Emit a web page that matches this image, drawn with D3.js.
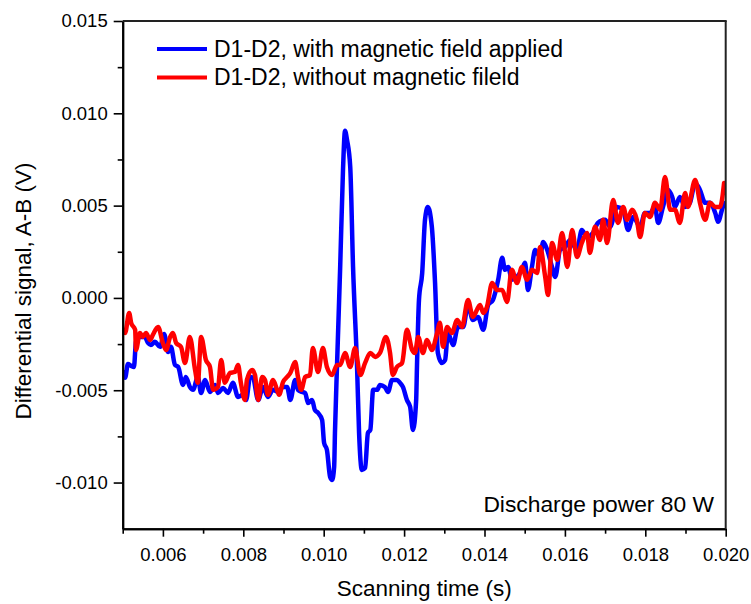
<!DOCTYPE html>
<html><head><meta charset="utf-8">
<script src="https://cdn.jsdelivr.net/npm/d3@7"></script>
<style>body{margin:0;background:#fff} text{font-family:"Liberation Sans",Arial,sans-serif;fill:#000}</style>
</head><body><svg id="c" width="751" height="604"></svg>
<script>
const blueTime = [5.01,5.06,5.13,5.21,5.28,5.33,5.43,5.55,5.63,5.70,5.80,5.93,6.03,6.13,6.20,6.30,6.38,6.50,6.57,6.67,6.75,6.87,6.95,7.05,7.17,7.30,7.37,7.50,7.62,7.74,7.87,7.99,8.07,8.17,8.24,8.37,8.49,8.61,8.74,8.86,8.99,9.09,9.17,9.29,9.36,9.46,9.54,9.61,9.71,9.78,9.86,9.96,10.01,10.08,10.16,10.21,10.26,10.28,10.33,10.41,10.48,10.53,10.58,10.66,10.73,10.83,10.88,10.95,11.03,11.10,11.16,11.23,11.33,11.40,11.52,11.60,11.70,11.82,11.90,11.97,12.07,12.15,12.22,12.30,12.32,12.37,12.45,12.52,12.59,12.69,12.77,12.84,12.94,13.02,13.09,13.22,13.34,13.47,13.59,13.71,13.84,13.97,14.09,14.21,14.34,14.44,14.51,14.59,14.68,14.81,14.93,15.01,15.08,15.18,15.26,15.38,15.46,15.56,15.68,15.76,15.88,16.01,16.13,16.30,16.42,16.55,16.70,16.82,17.00,17.12,17.30,17.45,17.57,17.70,17.87,17.99,18.12,18.24,18.32,18.44,18.57,18.67,18.74,18.86,18.99,19.11,19.24,19.36,19.49,19.61,19.74,19.81,19.93,20.00]; // ms
const blueSignal = [-4.01,-4.33,-3.58,-3.68,-3.74,-2.38,-2.11,-2.11,-2.44,-2.55,-2.38,-2.65,-1.95,-2.93,-2.65,-3.63,-3.74,-4.71,-4.28,-4.82,-4.98,-4.28,-5.15,-4.44,-5.09,-4.71,-5.15,-4.88,-5.15,-4.60,-5.36,-5.25,-5.53,-4.28,-4.33,-5.53,-4.82,-5.36,-4.98,-5.09,-4.82,-4.82,-5.53,-4.44,-4.98,-5.09,-5.15,-5.69,-5.53,-6.07,-6.23,-6.61,-7.85,-8.23,-9.70,-9.86,-9.15,-7.31,-3.74,1.68,6.93,9.05,8.56,7.10,1.68,-3.74,-7.31,-9.32,-9.21,-7.31,-7.15,-4.98,-4.98,-4.71,-4.82,-5.09,-4.44,-4.44,-4.60,-4.82,-5.53,-5.90,-7.15,-5.53,-3.74,-0.11,1.35,4.23,4.93,3.85,0.81,-2.98,-3.52,-3.36,-1.90,-2.55,-1.57,-1.57,-0.38,-1.19,-1.03,-1.73,-0.38,-0.11,0.98,2.17,1.52,1.68,0.98,1.14,1.52,1.90,0.43,1.68,2.60,2.22,3.03,2.60,1.68,1.14,2.60,2.76,3.14,2.60,3.68,3.30,3.52,4.06,4.23,3.85,4.93,4.77,3.68,4.39,3.85,4.60,4.60,4.93,4.06,4.93,5.85,5.47,4.93,5.47,4.93,5.15,6.23,5.85,5.15,5.15,4.60,4.12,4.93,5.15]; // mV
const redTime = [5.01,5.06,5.16,5.21,5.31,5.33,5.43,5.50,5.58,5.68,5.75,5.88,6.00,6.08,6.18,6.25,6.33,6.45,6.55,6.67,6.80,6.87,6.95,7.07,7.17,7.25,7.37,7.45,7.54,7.67,7.79,7.87,7.94,8.04,8.09,8.22,8.29,8.37,8.47,8.54,8.61,8.74,8.84,8.89,8.99,9.09,9.17,9.29,9.36,9.44,9.54,9.66,9.73,9.86,9.98,10.08,10.21,10.33,10.41,10.53,10.66,10.78,10.91,11.03,11.16,11.28,11.40,11.55,11.65,11.72,11.82,11.95,12.07,12.20,12.27,12.35,12.47,12.57,12.69,12.82,12.89,12.97,13.07,13.19,13.32,13.44,13.59,13.71,13.89,13.97,14.06,14.19,14.31,14.44,14.56,14.68,14.81,14.93,15.06,15.18,15.31,15.38,15.51,15.58,15.68,15.81,15.93,16.06,16.18,16.30,16.42,16.55,16.62,16.75,16.87,16.95,17.05,17.20,17.32,17.45,17.55,17.67,17.79,17.87,17.99,18.12,18.24,18.37,18.49,18.62,18.74,18.86,18.99,19.06,19.24,19.36,19.49,19.61,19.74,19.86,19.96]; // ms
const redSignal = [-1.73,-1.90,-0.81,-1.35,-1.73,-2.82,-1.90,-2.11,-1.90,-2.28,-2.00,-1.57,-2.44,-2.82,-2.11,-1.90,-2.44,-2.65,-3.52,-2.11,-3.90,-4.60,-2.11,-3.36,-3.74,-4.98,-4.82,-3.36,-4.60,-4.06,-4.01,-3.63,-4.60,-5.53,-4.44,-3.90,-4.17,-5.53,-4.28,-4.44,-5.25,-4.44,-4.98,-5.25,-4.55,-4.28,-4.06,-3.47,-4.28,-4.98,-4.28,-4.17,-2.71,-4.01,-2.71,-3.74,-4.17,-3.63,-3.63,-2.98,-3.74,-2.71,-4.17,-3.52,-2.98,-3.20,-2.98,-2.11,-2.98,-4.17,-3.74,-3.52,-1.73,-2.82,-2.98,-2.11,-2.98,-2.28,-2.82,-1.90,-1.35,-2.65,-1.57,-1.90,-1.19,-1.57,-0.11,-1.03,-0.38,-0.81,-0.49,0.81,0.43,0.43,-0.22,1.52,0.81,1.68,0.98,1.52,1.35,2.76,1.14,0.16,2.98,2.06,3.52,1.68,3.68,2.22,2.98,3.52,2.44,3.85,3.14,4.23,2.98,5.31,4.06,4.93,4.23,4.77,4.23,3.30,4.60,4.39,5.15,4.77,6.55,4.77,4.77,4.06,5.69,4.93,6.39,5.15,4.23,5.15,4.93,4.93,6.23]; // mV
const seriesNames = ["D1-D2, with magnetic field applied", "D1-D2, without magnetic fileld"];
const seriesColors = ["#0000ff", "#ff0000"];
const xTicks = [0.006,0.008,0.010,0.012,0.014,0.016,0.018,0.020];
const xMinor = [0.005,0.007,0.009,0.011,0.013,0.015,0.017,0.019];
const yTicks = [-0.010,-0.005,0.000,0.005,0.010,0.015];
const yMinor = [-0.0075,-0.0025,0.0025,0.0075,0.0125];
const xTitle = "Scanning time (s)";
const yTitle = "Differential signal, A-B (V)";
const note = "Discharge power 80 W";

const svg = d3.select("#c");
const L = 122.7, R = 725.7, T = 21, B = 528.7;
const x = d3.scaleLinear().domain([0.005, 0.020]).range([L, R]);
const y = d3.scaleLinear().domain([-0.0125, 0.015]).range([B, T]);

svg.append("defs").append("clipPath").attr("id","clip")
  .append("rect").attr("x", L).attr("y", T).attr("width", R-L).attr("height", B-T);

const mk = (ts, vs) => ts.map((t,i) => [t/1000, vs[i]/1000]);
const series = [mk(blueTime, blueSignal), mk(redTime, redSignal)];
const line = d3.line().x(d => x(d[0])).y(d => y(d[1])).curve(d3.curveMonotoneX);

const g = svg.append("g").attr("clip-path","url(#clip)");
series.forEach((s,i) => {
  g.append("path").datum(s).attr("d", line).attr("fill","none")
    .attr("stroke", seriesColors[i]).attr("stroke-width", 4.5)
    .attr("stroke-linejoin","round").attr("stroke-linecap","round");
});

const fmt = d => d.toFixed(3);
function styleAxis(sel){
  sel.selectAll("path.domain").attr("stroke","#000").attr("stroke-width",2);
  sel.selectAll(".tick line").attr("stroke","#000").attr("stroke-width",1.6);
  sel.selectAll(".tick text").attr("font-size","18.5px").attr("font-family","Liberation Sans, Arial, sans-serif").attr("fill","#000");
}
const xa = svg.append("g").attr("transform",`translate(0,${B})`)
  .call(d3.axisBottom(x).tickValues(xTicks).tickFormat(fmt).tickSize(8).tickSizeOuter(0).tickPadding(11));
styleAxis(xa);
const xm = svg.append("g").attr("transform",`translate(0,${B})`)
  .call(d3.axisBottom(x).tickValues(xMinor).tickFormat("").tickSize(5).tickSizeOuter(0));
styleAxis(xm);
const ya = svg.append("g").attr("transform",`translate(${L},0)`)
  .call(d3.axisLeft(y).tickValues(yTicks).tickFormat(fmt).tickSize(9).tickSizeOuter(0).tickPadding(6));
styleAxis(ya);
const ym = svg.append("g").attr("transform",`translate(${L},0)`)
  .call(d3.axisLeft(y).tickValues(yMinor).tickFormat("").tickSize(5).tickSizeOuter(0));
styleAxis(ym);

// top and right frame
svg.append("line").attr("x1",L).attr("x2",R+1).attr("y1",T).attr("y2",T).attr("stroke","#222").attr("stroke-width",2);
svg.append("line").attr("x1",R).attr("x2",R).attr("y1",T).attr("y2",B).attr("stroke","#222").attr("stroke-width",2);

svg.append("text").attr("x",(L+R)/2).attr("y",596).attr("text-anchor","middle")
  .attr("font-size","22.5px").text(xTitle);
svg.append("text").attr("transform","translate(31,291) rotate(-90)").attr("text-anchor","middle")
  .attr("font-size","22.5px").text(yTitle);

// legend
seriesNames.forEach((n,i) => {
  const cy = 49 + i*28.5;
  svg.append("line").attr("x1",157).attr("x2",207).attr("y1",cy).attr("y2",cy)
    .attr("stroke",seriesColors[i]).attr("stroke-width",4.2);
  svg.append("text").attr("x",214).attr("y",cy+7.8).attr("font-size","23px").text(n);
});

svg.append("text").attr("x",714).attr("y",512).attr("text-anchor","end")
  .attr("font-size","22.8px").text(note);
</script></body></html>
